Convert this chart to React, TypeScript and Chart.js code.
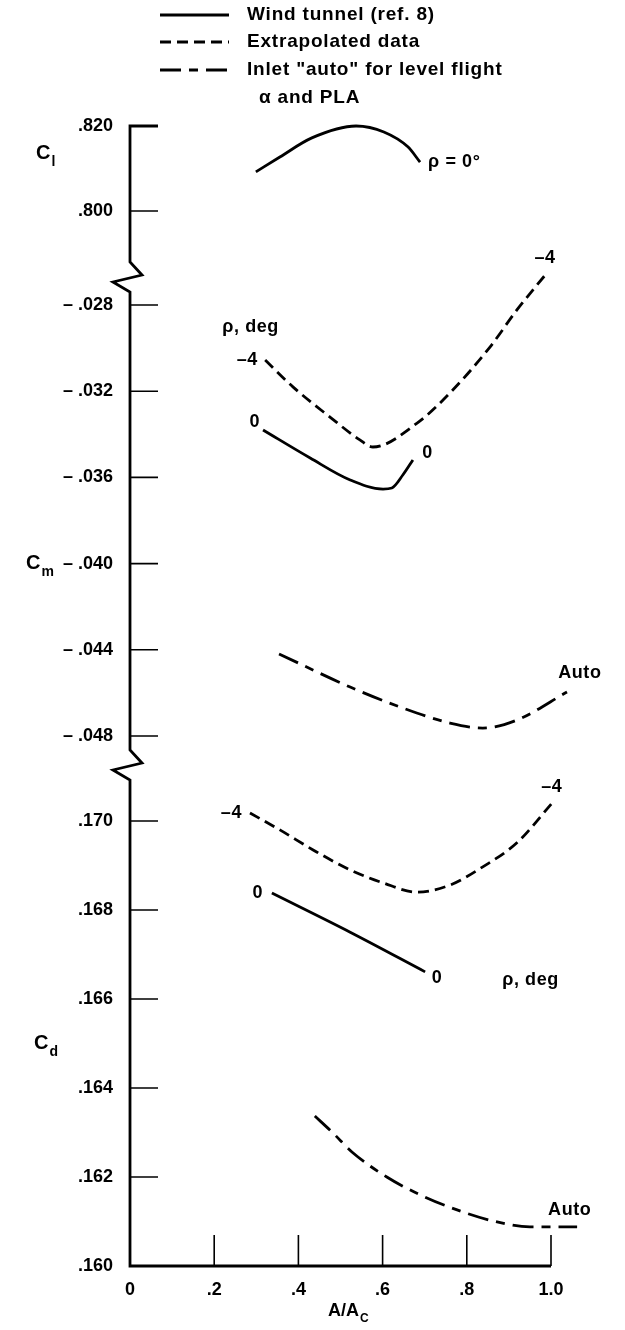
import { useEffect, useRef } from 'react';
import { Chart, registerables } from 'chart.js';
Chart.register(...registerables);

const FONT = '"Liberation Sans", Arial, Helvetica, sans-serif';

// ---- Axis ticks ----
const xTicks = [0, 0.2, 0.4, 0.6, 0.8, 1.0];
const xTickLabels = ['0', '.2', '.4', '.6', '.8', '1.0'];

const clTicks = [0.8, 0.82];
const clTickLabels = ['.800', '.820'];

const cmTicks = [-0.048, -0.044, -0.04, -0.036, -0.032, -0.028];
const cmTickLabels = ['– .048', '– .044', '– .040', '– .036', '– .032', '– .028'];

const cdTicks = [0.16, 0.162, 0.164, 0.166, 0.168, 0.17];
const cdTickLabels = ['.160', '.162', '.164', '.166', '.168', '.170'];

// ---- Series: lift coefficient, rho = 0 (wind tunnel) ----
const clRho0X = [0.299, 0.356, 0.432, 0.537, 0.603, 0.66, 0.689];
const clRho0Y = [0.8092, 0.8127, 0.8172, 0.82, 0.8186, 0.8151, 0.8115];

// ---- Series: pitching moment ----
const cmRhoM4X = [0.321, 0.387, 0.475, 0.546, 0.577, 0.682, 0.76, 0.855, 0.919, 0.99];
const cmRhoM4Y = [-0.03055, -0.0318, -0.0332, -0.03426, -0.03459, -0.03348, -0.03208, -0.02995, -0.02823, -0.02652];

const cmRho0X = [0.316, 0.428, 0.523, 0.601, 0.622, 0.648, 0.672];
const cmRho0Y = [-0.0338, -0.0351, -0.03612, -0.03654, -0.03649, -0.03589, -0.03519];

const cmAutoX = [0.354, 0.523, 0.641, 0.76, 0.838, 0.919, 1.038];
const cmAutoY = [-0.04419, -0.04573, -0.04665, -0.0474, -0.04763, -0.04726, -0.04596];

// ---- Series: drag coefficient ----
const cdRhoM4X = [0.285, 0.356, 0.435, 0.523, 0.601, 0.682, 0.76, 0.838, 0.919, 1.005];
const cdRhoM4Y = [0.17018, 0.1698, 0.16935, 0.1689, 0.16861, 0.1684, 0.16856, 0.16897, 0.16951, 0.17043];

const cdRho0X = [0.337, 0.523, 0.701];
const cdRho0Y = [0.16838, 0.1675, 0.16661];

const cdAutoX = [0.439, 0.482, 0.53, 0.61, 0.689, 0.777, 0.872, 0.95, 1.062];
const cdAutoY = [0.16337, 0.16299, 0.16254, 0.162, 0.1616, 0.16126, 0.16099, 0.16088, 0.16088];

// ---- Legend entries & curve labels ----
const legendLabels = ['Wind tunnel (ref. 8)', 'Extrapolated data', 'Inlet "auto" for level flight', 'α and PLA'];

const SOLID: number[] = [];
const DASHED = [11, 6];
const DASHDOT = [21, 8, 9, 8];

const notes = [
  { axis: 'yl', x: 0.708, y: 0.81143, text: 'ρ = 0°', align: 'left' },
  { axis: 'ym', x: 0.219, y: -0.02902, text: 'ρ, deg', align: 'left' },
  { axis: 'ym', x: 0.304, y: -0.03055, text: '–4', align: 'right' },
  { axis: 'ym', x: 0.309, y: -0.03343, text: '0', align: 'right' },
  { axis: 'ym', x: 0.694, y: -0.03487, text: '0', align: 'left' },
  { axis: 'ym', x: 0.986, y: -0.02582, text: '–4', align: 'center' },
  { axis: 'ym', x: 1.017, y: -0.04508, text: 'Auto', align: 'left' },
  { axis: 'yd', x: 0.266, y: 0.17018, text: '–4', align: 'right' },
  { axis: 'yd', x: 0.316, y: 0.16838, text: '0', align: 'right' },
  { axis: 'yd', x: 1.002, y: 0.17076, text: '–4', align: 'center' },
  { axis: 'yd', x: 0.717, y: 0.16647, text: '0', align: 'left' },
  { axis: 'yd', x: 0.884, y: 0.16643, text: 'ρ, deg', align: 'left' },
  { axis: 'yd', x: 0.993, y: 0.16126, text: 'Auto', align: 'left' },
];

const pts = (xs: number[], ys: number[]) => xs.map((x, i) => ({ x, y: ys[i] }));

const line = (data: any, yAxisID: string, dash: number[]) => ({
  data,
  yAxisID,
  xAxisID: 'x',
  borderColor: '#000',
  backgroundColor: '#000',
  borderWidth: 2.8,
  borderDash: dash,
  pointRadius: 0,
  cubicInterpolationMode: 'monotone',
  clip: false,
  fill: false,
});

const tickFont = { family: FONT, size: 18, weight: 'bold' as const };

const decorPlugin = {
  id: 'decor',
  afterDraw(chart: any) {
    const ctx: any = chart.ctx;
    const xs = chart.scales.x;
    const yl = chart.scales.yl;
    const ym = chart.scales.ym;
    const yd = chart.scales.yd;
    const ax = xs.left;
    const bottom = yd.bottom;
    const right = xs.getPixelForValue(xTicks[xTicks.length - 1]);
    const topY = yl.getPixelForValue(clTicks[clTicks.length - 1]);
    const b1 = ym.top - 6;
    const b2 = yd.top - 6;
    ctx.save();
    ctx.strokeStyle = '#000';
    ctx.fillStyle = '#000';
    ctx.setLineDash([]);
    ctx.lineJoin = 'miter';
    ctx.lineCap = 'butt';
    // axis frame with breaks
    ctx.lineWidth = 2.8;
    ctx.beginPath();
    ctx.moveTo(ax + 28, topY);
    ctx.lineTo(ax, topY);
    const zig = (s: number) => {
      ctx.lineTo(ax, s);
      ctx.lineTo(ax + 12, s + 13);
      ctx.lineTo(ax - 17, s + 20);
      ctx.lineTo(ax, s + 30);
    };
    zig(b1);
    zig(b2);
    ctx.lineTo(ax, bottom);
    ctx.lineTo(right, bottom);
    ctx.stroke();
    // inward tick marks
    ctx.lineWidth = 1.6;
    ctx.beginPath();
    const yTickSets: [any, number[]][] = [[yl, clTicks.slice(0, -1)], [ym, cmTicks], [yd, cdTicks.slice(1)]];
    for (const [sc, vals] of yTickSets) {
      for (const v of vals) {
        const py = sc.getPixelForValue(v);
        ctx.moveTo(ax, py);
        ctx.lineTo(ax + 28, py);
      }
    }
    for (const v of xTicks.slice(1)) {
      const px = xs.getPixelForValue(v);
      ctx.moveTo(px, bottom);
      ctx.lineTo(px, bottom - 31);
    }
    ctx.stroke();

    // curve labels
    ctx.letterSpacing = '0.6px';
    ctx.font = `bold 18px ${FONT}`;
    ctx.textBaseline = 'middle';
    for (const n of notes) {
      const sc = chart.scales[n.axis];
      ctx.textAlign = n.align as CanvasTextAlign;
      ctx.fillText(n.text, xs.getPixelForValue(n.x), sc.getPixelForValue(n.y));
    }

    // axis titles with subscripts
    const sub = (main: string, s: string, x: number, y: number, size: number) => {
      ctx.textAlign = 'left';
      ctx.textBaseline = 'middle';
      ctx.font = `bold ${size}px ${FONT}`;
      ctx.fillText(main, x, y);
      const w = ctx.measureText(main).width;
      ctx.font = `bold ${Math.round(size * 0.68)}px ${FONT}`;
      ctx.fillText(s, x + w + 1, y + size * 0.42);
    };
    ctx.letterSpacing = '0px';
    sub('C', 'l', 36, yl.getPixelForValue(0.8135), 20);
    sub('C', 'm', 26, ym.getPixelForValue(-0.04), 20);
    sub('C', 'd', 34, yd.getPixelForValue(0.165), 20);
    ctx.font = `bold 18px ${FONT}`;
    const aw = ctx.measureText('A/A').width;
    sub('A/A', 'C', xs.getPixelForValue(0.5) - (aw + 10) / 2 + 8, bottom + 45, 18);

    // legend
    const lx0 = 160;
    const lx1 = 229;
    const rows = [15, 42, 70];
    const dashes = [SOLID, DASHED, DASHDOT];
    ctx.lineWidth = 2.8;
    rows.forEach((ry, i) => {
      ctx.setLineDash(dashes[i]);
      ctx.beginPath();
      ctx.moveTo(lx0, ry);
      ctx.lineTo(lx1, ry);
      ctx.stroke();
    });
    ctx.setLineDash([]);
    ctx.letterSpacing = '0.8px';
    ctx.font = `bold 19px ${FONT}`;
    ctx.textAlign = 'left';
    ctx.textBaseline = 'middle';
    ctx.fillText(legendLabels[0], 247, rows[0]);
    ctx.fillText(legendLabels[1], 247, rows[1]);
    ctx.fillText(legendLabels[2], 247, rows[2]);
    ctx.fillText(legendLabels[3], 259, rows[2] + 28);
    ctx.restore();
  },
};

const yScale = (min: number, max: number, ticks: number[], labels: string[], weight: number, stackWeight: number) => ({
  type: 'linear',
  position: 'left',
  stack: 'main',
  stackWeight,
  weight,
  min,
  max,
  afterBuildTicks: (s: any) => {
    s.ticks = ticks.map((v) => ({ value: v }));
  },
  afterFit: (s: any) => {
    s.width = 130;
  },
  ticks: {
    autoSkip: false,
    padding: 17,
    color: '#000',
    font: tickFont,
    callback: (_v: any, i: number) => labels[i],
  },
  grid: { display: false, drawTicks: false },
  border: { display: false },
});

export default function App() {
  const ref = useRef<HTMLCanvasElement>(null);
  useEffect(() => {
    if (!ref.current) return;
    const chart = new Chart(ref.current, {
      type: 'line',
      data: {
        datasets: [
          line(pts(clRho0X, clRho0Y), 'yl', SOLID),
          line(pts(cmRhoM4X, cmRhoM4Y), 'ym', DASHED),
          line(pts(cmRho0X, cmRho0Y), 'ym', SOLID),
          line(pts(cmAutoX, cmAutoY), 'ym', DASHDOT),
          line(pts(cdRhoM4X, cdRhoM4Y), 'yd', DASHED),
          line(pts(cdRho0X, cdRho0Y), 'yd', SOLID),
          line(pts(cdAutoX, cdAutoY), 'yd', DASHDOT),
        ] as any,
      },
      options: {
        responsive: false,
        animation: false,
        devicePixelRatio: 1,
        events: [],
        layout: { padding: { top: 120, right: 74, left: 0, bottom: 0 } },
        plugins: { legend: { display: false }, tooltip: { enabled: false }, title: { display: false } },
        scales: {
          x: {
            type: 'linear',
            position: 'bottom',
            min: 0,
            max: 1,
            afterBuildTicks: (s: any) => {
              s.ticks = xTicks.map((v) => ({ value: v }));
            },
            afterFit: (s: any) => {
              s.height = 64;
            },
            ticks: {
              autoSkip: false,
              maxRotation: 0,
              padding: 13,
              color: '#000',
              font: tickFont,
              callback: (_v: any, i: number) => xTickLabels[i],
            },
            grid: { display: false, drawTicks: false },
            border: { display: false },
          },
          yl: yScale(0.78659, 0.82141, clTicks, clTickLabels, 3, 148),
          ym: yScale(-0.048928, -0.026283, cmTicks, cmTickLabels, 2, 488),
          yd: yScale(0.16, 0.171461, cdTicks, cdTickLabels, 1, 510),
        } as any,
      },
      plugins: [decorPlugin],
    });
    return () => chart.destroy();
  }, []);
  return (
    <div style={{ position: 'absolute', left: 0, top: 0, width: 625, height: 1330, background: '#fff' }}>
      <canvas ref={ref} width={625} height={1330} style={{ display: 'block', width: 625, height: 1330 }} />
    </div>
  );
}
